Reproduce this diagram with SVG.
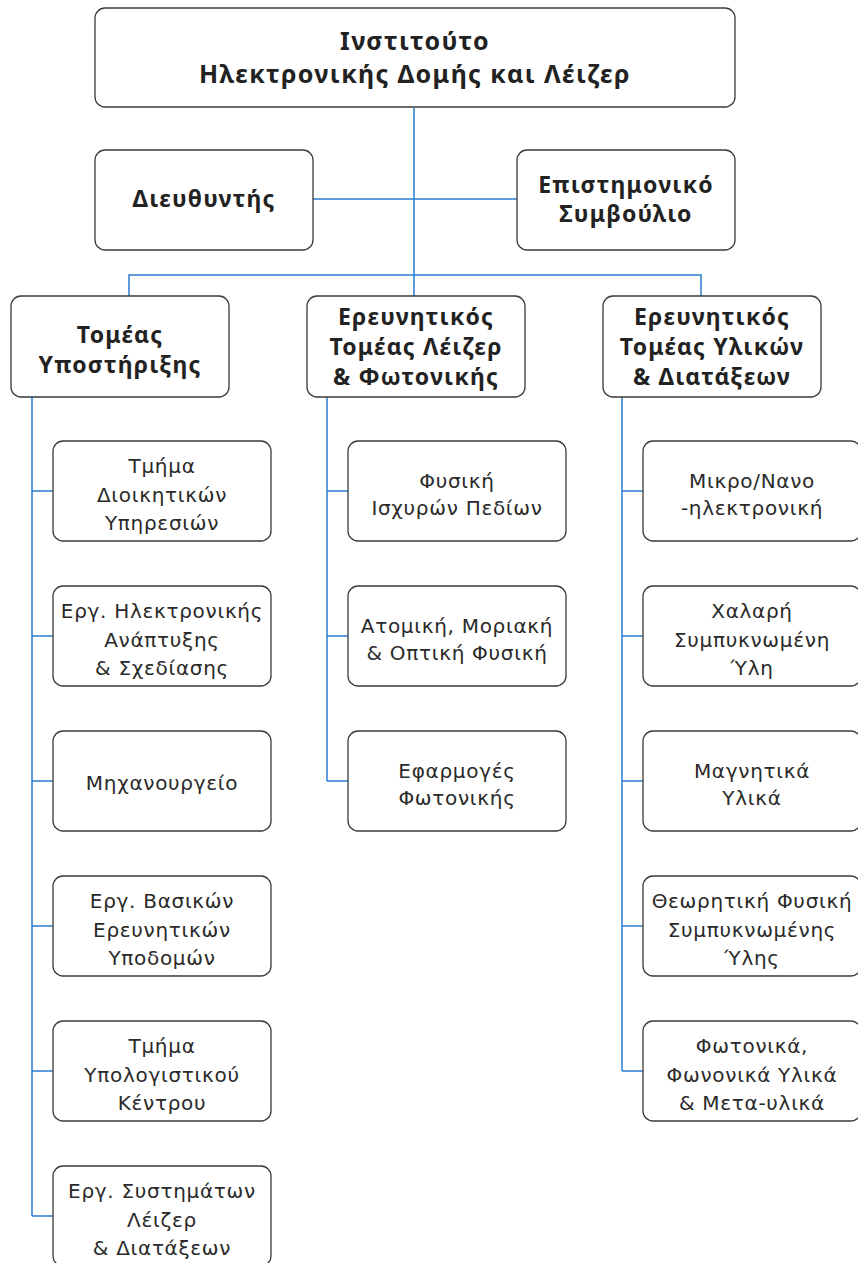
<svg xmlns="http://www.w3.org/2000/svg" width="858" height="1263" viewBox="0 0 858 1263">
<style>
.box{fill:#fff;stroke:#3a3a3a;stroke-width:1.3}
.h{font-family:"Noto Sans","DejaVu Sans",sans-serif;font-weight:700;font-size:23px;letter-spacing:1.2px;fill:#222;text-anchor:middle}
.top{font-size:25px;letter-spacing:1.35px}
.t{font-family:"DejaVu Sans","Noto Sans",sans-serif;font-size:20px;letter-spacing:0.7px;fill:#2a2a2a;text-anchor:middle}
.c{fill:none;stroke:#2a7ccf;stroke-width:1.5}
</style>
<rect width="858" height="1263" fill="#fff"/>
<g id="connectors">
<path class="c" d="M414 108V296M313 199H517M129 296V275H701V296"/>
<path class="c" d="M32 397V1216M32 491H53M32 636H53M32 781H53M32 926H53M32 1071H53M32 1216H53"/>
<path class="c" d="M327 397V781M327 491H348M327 636H348M327 781H348"/>
<path class="c" d="M622 397V1071M622 491H643M622 636H643M622 781H643M622 926H643M622 1071H643"/>
</g>
<g id="institute"><rect class="box" x="95" y="8" width="640" height="99" rx="10"/>
<text class="h top" x="415" y="50">Ινστιτούτο</text><text class="h top" x="415" y="83">Ηλεκτρονικής Δομής και Λέιζερ</text></g>
<g id="director"><rect class="box" x="95" y="150" width="218" height="100" rx="10"/>
<text class="h" x="204" y="207">Διευθυντής</text></g>
<g id="council"><rect class="box" x="517" y="150" width="218" height="100" rx="10"/>
<text class="h" x="626" y="193">Επιστημονικό</text><text class="h" x="626" y="222">Συμβούλιο</text></g>
<g id="support"><rect class="box" x="11" y="296" width="218" height="101" rx="10"/>
<text class="h" x="120" y="343">Τομέας</text><text class="h" x="120" y="373">Υποστήριξης</text></g>
<g id="laser"><rect class="box" x="307" y="296" width="218" height="101" rx="10"/>
<text class="h" x="416" y="325">Ερευνητικός</text><text class="h" x="416" y="355">Τομέας Λέιζερ</text><text class="h" x="416" y="385">&amp; Φωτονικής</text></g>
<g id="materials"><rect class="box" x="603" y="296" width="218" height="101" rx="10"/>
<text class="h" x="712" y="325">Ερευνητικός</text><text class="h" x="712" y="355">Τομέας Υλικών</text><text class="h" x="712" y="385">&amp; Διατάξεων</text></g>

<g id="s1"><rect class="box" x="53" y="441" width="218" height="100" rx="10"/>
<text class="t" x="162" y="473">Τμήμα</text><text class="t" x="162" y="502">Διοικητικών</text><text class="t" x="162" y="530">Υπηρεσιών</text></g>
<g id="s2"><rect class="box" x="53" y="586" width="218" height="100" rx="10"/>
<text class="t" x="162" y="618">Εργ. Ηλεκτρονικής</text><text class="t" x="162" y="647">Ανάπτυξης</text><text class="t" x="162" y="675">&amp; Σχεδίασης</text></g>
<g id="s3"><rect class="box" x="53" y="731" width="218" height="100" rx="10"/>
<text class="t" x="162" y="790">Μηχανουργείο</text></g>
<g id="s4"><rect class="box" x="53" y="876" width="218" height="100" rx="10"/>
<text class="t" x="162" y="908">Εργ. Βασικών</text><text class="t" x="162" y="937">Ερευνητικών</text><text class="t" x="162" y="965">Υποδομών</text></g>
<g id="s5"><rect class="box" x="53" y="1021" width="218" height="100" rx="10"/>
<text class="t" x="162" y="1053">Τμήμα</text><text class="t" x="162" y="1082">Υπολογιστικού</text><text class="t" x="162" y="1110">Κέντρου</text></g>
<g id="s6"><rect class="box" x="53" y="1166" width="218" height="100" rx="10"/>
<text class="t" x="162" y="1198">Εργ. Συστημάτων</text><text class="t" x="162" y="1227">Λέιζερ</text><text class="t" x="162" y="1255">&amp; Διατάξεων</text></g>

<g id="l1"><rect class="box" x="348" y="441" width="218" height="100" rx="10"/>
<text class="t" x="457" y="488">Φυσική</text><text class="t" x="457" y="515">Ισχυρών Πεδίων</text></g>
<g id="l2"><rect class="box" x="348" y="586" width="218" height="100" rx="10"/>
<text class="t" x="457" y="633">Ατομική, Μοριακή</text><text class="t" x="457" y="660">&amp; Οπτική Φυσική</text></g>
<g id="l3"><rect class="box" x="348" y="731" width="218" height="100" rx="10"/>
<text class="t" x="457" y="778">Εφαρμογές</text><text class="t" x="457" y="805">Φωτονικής</text></g>

<g id="m1"><rect class="box" x="643" y="441" width="218" height="100" rx="10"/>
<text class="t" x="752" y="488">Μικρο/Νανο</text><text class="t" x="752" y="515">-ηλεκτρονική</text></g>
<g id="m2"><rect class="box" x="643" y="586" width="218" height="100" rx="10"/>
<text class="t" x="752" y="618">Χαλαρή</text><text class="t" x="752" y="647">Συμπυκνωμένη</text><text class="t" x="752" y="675">Ύλη</text></g>
<g id="m3"><rect class="box" x="643" y="731" width="218" height="100" rx="10"/>
<text class="t" x="752" y="778">Μαγνητικά</text><text class="t" x="752" y="805">Υλικά</text></g>
<g id="m4"><rect class="box" x="643" y="876" width="218" height="100" rx="10"/>
<text class="t" x="752" y="908">Θεωρητική Φυσική</text><text class="t" x="752" y="937">Συμπυκνωμένης</text><text class="t" x="752" y="965">Ύλης</text></g>
<g id="m5"><rect class="box" x="643" y="1021" width="218" height="100" rx="10"/>
<text class="t" x="752" y="1053">Φωτονικά,</text><text class="t" x="752" y="1082">Φωνονικά Υλικά</text><text class="t" x="752" y="1110">&amp; Μετα-υλικά</text></g>
</svg>
